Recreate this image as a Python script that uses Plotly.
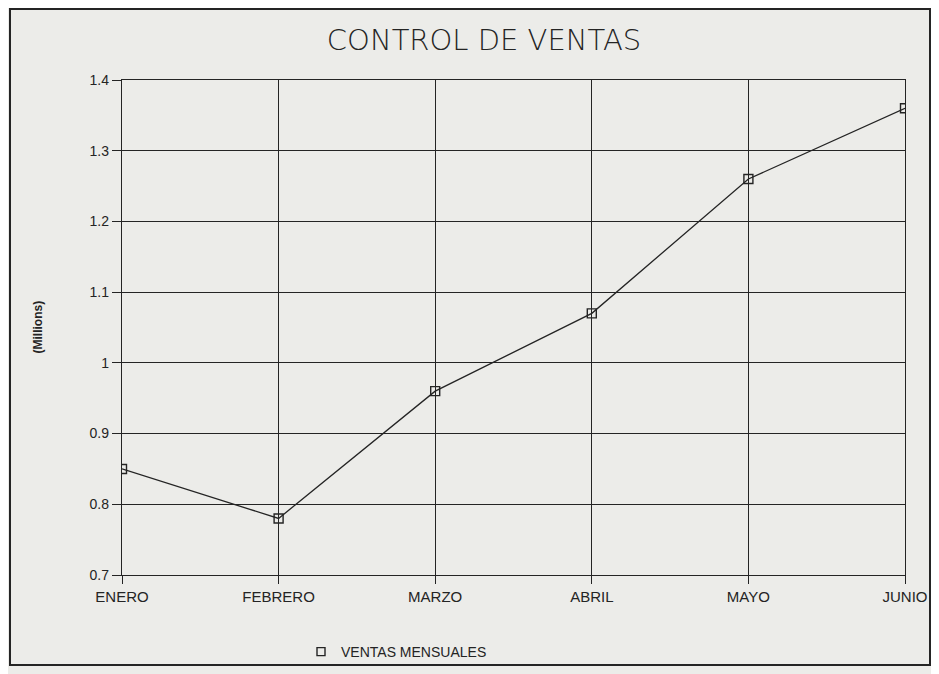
import plotly.graph_objects as go

months = ["ENERO", "FEBRERO", "MARZO", "ABRIL", "MAYO", "JUNIO"]
ventas = [0.85, 0.78, 0.96, 1.07, 1.26, 1.36]
y_ticks = [0.7, 0.8, 0.9, 1.0, 1.1, 1.2, 1.3, 1.4]
y_tick_labels = ["0.7", "0.8", "0.9", "1", "1.1", "1.2", "1.3", "1.4"]

# page body has an 8px margin, so the figure is sized/positioned to compensate
W, H = 931, 666
L, R, T, B = 114, 34, 72, 99
PW, PH = W - L - R, H - T - B
ink = "#242424"
bg = "#ecece9"

fig = go.Figure()
fig.add_trace(go.Scatter(
    x=months, y=ventas, mode="lines+markers", showlegend=False,
    line=dict(color=ink, width=1.3),
    marker=dict(symbol="square-open", size=9, color=ink, line=dict(width=1.4)),
))
fig.add_trace(go.Scatter(
    x=[None], y=[None], mode="markers", name="VENTAS MENSUALES",
    marker=dict(symbol="square-open", size=8, color=ink, line=dict(width=1.4)),
))

fig.update_layout(
    width=W, height=H,
    margin=dict(l=L, r=R, t=T, b=B),
    paper_bgcolor=bg, plot_bgcolor=bg,
    font=dict(family="Liberation Sans, Arial, sans-serif", color=ink),
    title=dict(text="CONTROL DE VENTAS", xref="container", yref="container",
               x=476 / W, xanchor="center", y=1 - 32 / H, yanchor="middle",
               font=dict(family="DejaVu Sans, Liberation Sans, sans-serif",
                         size=29, weight=300, color=ink)),
    xaxis=dict(type="category", range=[0, 5], showgrid=True, gridcolor=ink,
               gridwidth=1, showline=True, linecolor=ink, linewidth=1.3,
               mirror=True, ticks="outside", ticklen=8, tickcolor=ink,
               tickfont=dict(size=15), zeroline=False),
    yaxis=dict(range=[0.7, 1.4], tickvals=y_ticks, ticktext=y_tick_labels,
               showgrid=True, gridcolor=ink, gridwidth=1, showline=True,
               linecolor=ink, linewidth=1.3, mirror=True, ticks="outside",
               ticklen=9, tickcolor=ink, tickfont=dict(size=14),
               zeroline=False),
    legend=dict(orientation="h", xref="container", yref="container",
                x=293 / W, xanchor="left", y=1 - 644 / H, yanchor="middle",
                font=dict(size=14), bgcolor="rgba(0,0,0,0)", itemwidth=30),
    annotations=[dict(text="(Millions)", xref="paper", yref="paper",
                      x=(20 - L) / PW, y=0.5, textangle=-90,
                      showarrow=False,
                      font=dict(size=12, color=ink, weight="bold"))],
    shapes=[dict(type="rect", xref="paper", yref="paper",
                 x0=(2 - L) / PW, x1=(922 - L) / PW,
                 y0=(H - B - 657) / PH, y1=(H - B - 1) / PH,
                 line=dict(color=ink, width=2), layer="below")],
)

fig.write_html("out.html")
